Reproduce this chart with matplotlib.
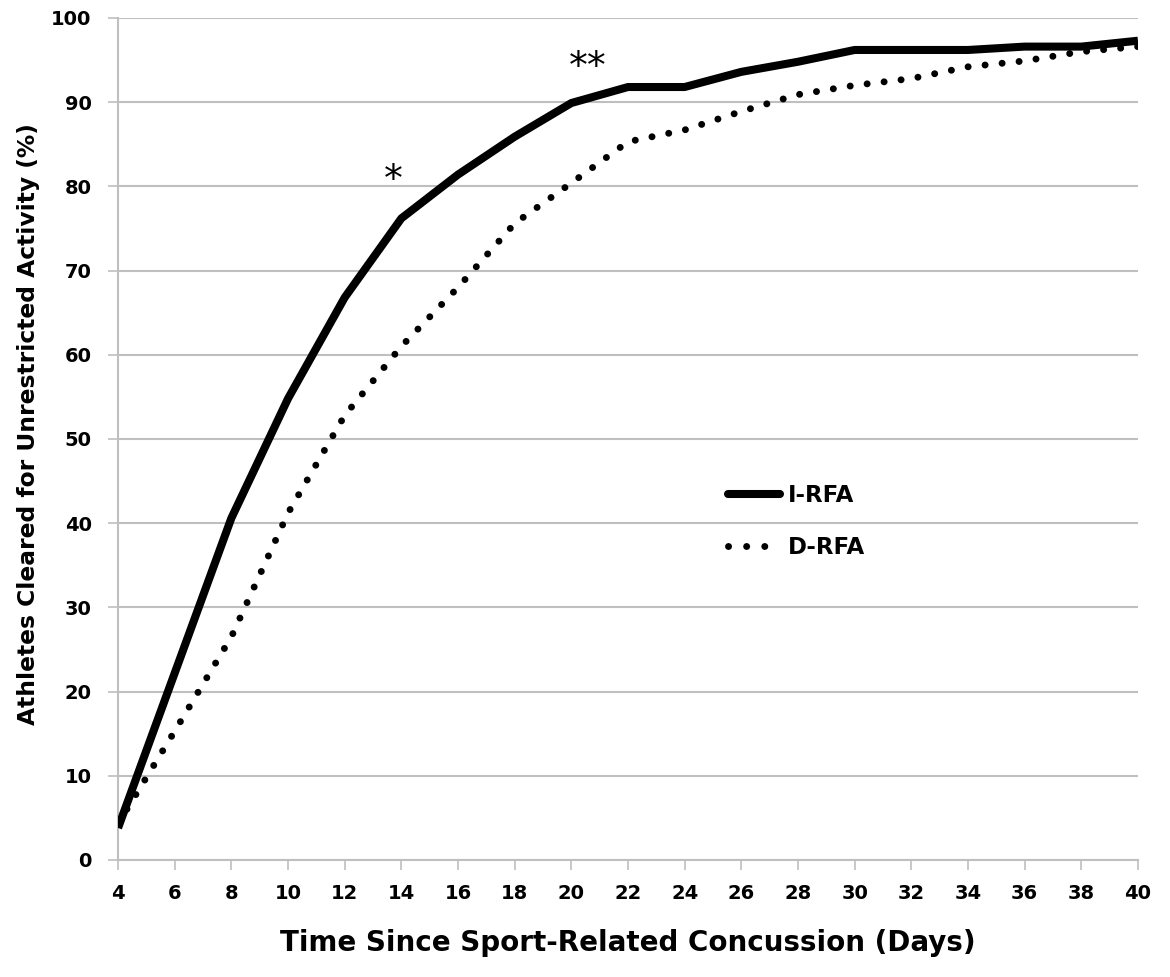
import matplotlib
matplotlib.use("Agg")
import matplotlib.pyplot as plt
from matplotlib.lines import Line2D

# days since concussion
days = [4, 6, 8, 10, 12, 14, 16, 18, 20, 22, 24, 26, 28, 30, 32, 34, 36, 38, 40]

# % cleared
i_rfa = [3.8, 22.2, 40.6, 54.8, 66.8, 76.2, 81.4, 85.9, 89.9, 91.8, 91.8,
         93.6, 94.8, 96.2, 96.2, 96.2, 96.6, 96.6, 97.3]
d_rfa = [4.3, 15.3, 26.5, 41.2, 52.8, 61.0, 68.0, 75.6, 80.4, 85.3, 86.7,
         88.9, 90.9, 92.0, 92.8, 94.2, 94.9, 96.0, 96.6]

# significance markers
marks = ["*", "**"]
mark_x = [13.72, 20.57]
mark_y = [80.6, 94.0]

plt.rcParams['font.family'] = ['DejaVu Sans']

fig = plt.figure(figsize=(11.7, 9.77), dpi=100)
ax = fig.add_axes([0.1009, 0.1198, 0.8717, 0.8618])

grid_col = '#bfbfbf'
ax.plot(days, i_rfa, color='black', lw=5.8, solid_joinstyle='round',
        solid_capstyle='butt', zorder=3)
ax.plot(days, d_rfa, color='black', lw=5, linestyle=(0, (0.01, 2.45)),
        dash_capstyle='round', zorder=3)

for m, mx, my in zip(marks, mark_x, mark_y):
    ax.text(mx, my, m, fontsize=27, ha='center', va='center')

ax.set_xlim(4, 40)
ax.set_ylim(0, 100)
ax.set_xticks(range(4, 41, 2))
ax.set_yticks(range(0, 101, 10))
ax.yaxis.grid(True, color=grid_col, lw=1.5)
ax.set_axisbelow(True)

for s in ['top', 'right']:
    ax.spines[s].set_visible(False)
for s in ['left', 'bottom']:
    ax.spines[s].set_color(grid_col)
    ax.spines[s].set_linewidth(1.5)

ax.tick_params(axis='both', color=grid_col, width=1.2, length=7,
               labelsize=14)
ax.tick_params(axis='y', pad=12)
ax.tick_params(axis='x', pad=10)
for lbl in ax.get_xticklabels() + ax.get_yticklabels():
    lbl.set_fontweight('bold')

ax.set_xlabel('Time Since Sport-Related Concussion (Days)', fontsize=20,
              fontweight='bold')
ax.set_ylabel('Athletes Cleared for Unrestricted Activity (%)', fontsize=16.8,
              fontweight='bold')
ax.xaxis.set_label_coords(0.5, -0.082)
ax.yaxis.set_label_coords(-0.077, 0.518)

# legend proxies so the dotted sample shows three dots like the original
handles = [Line2D([], [], color='black', lw=5.8, solid_capstyle='round'),
           Line2D([], [], color='black', lw=5, linestyle=(0, (0.01, 2.6)),
                  dash_capstyle='round')]
ax.legend(handles, ['I-RFA', 'D-RFA'], loc='upper left',
          bbox_to_anchor=(0.578, 0.4705), frameon=False,
          handlelength=2.27, handletextpad=0.35, labelspacing=1.24,
          prop={'size': 16.5, 'weight': 'bold'})

fig.savefig('out.png', dpi=100)
